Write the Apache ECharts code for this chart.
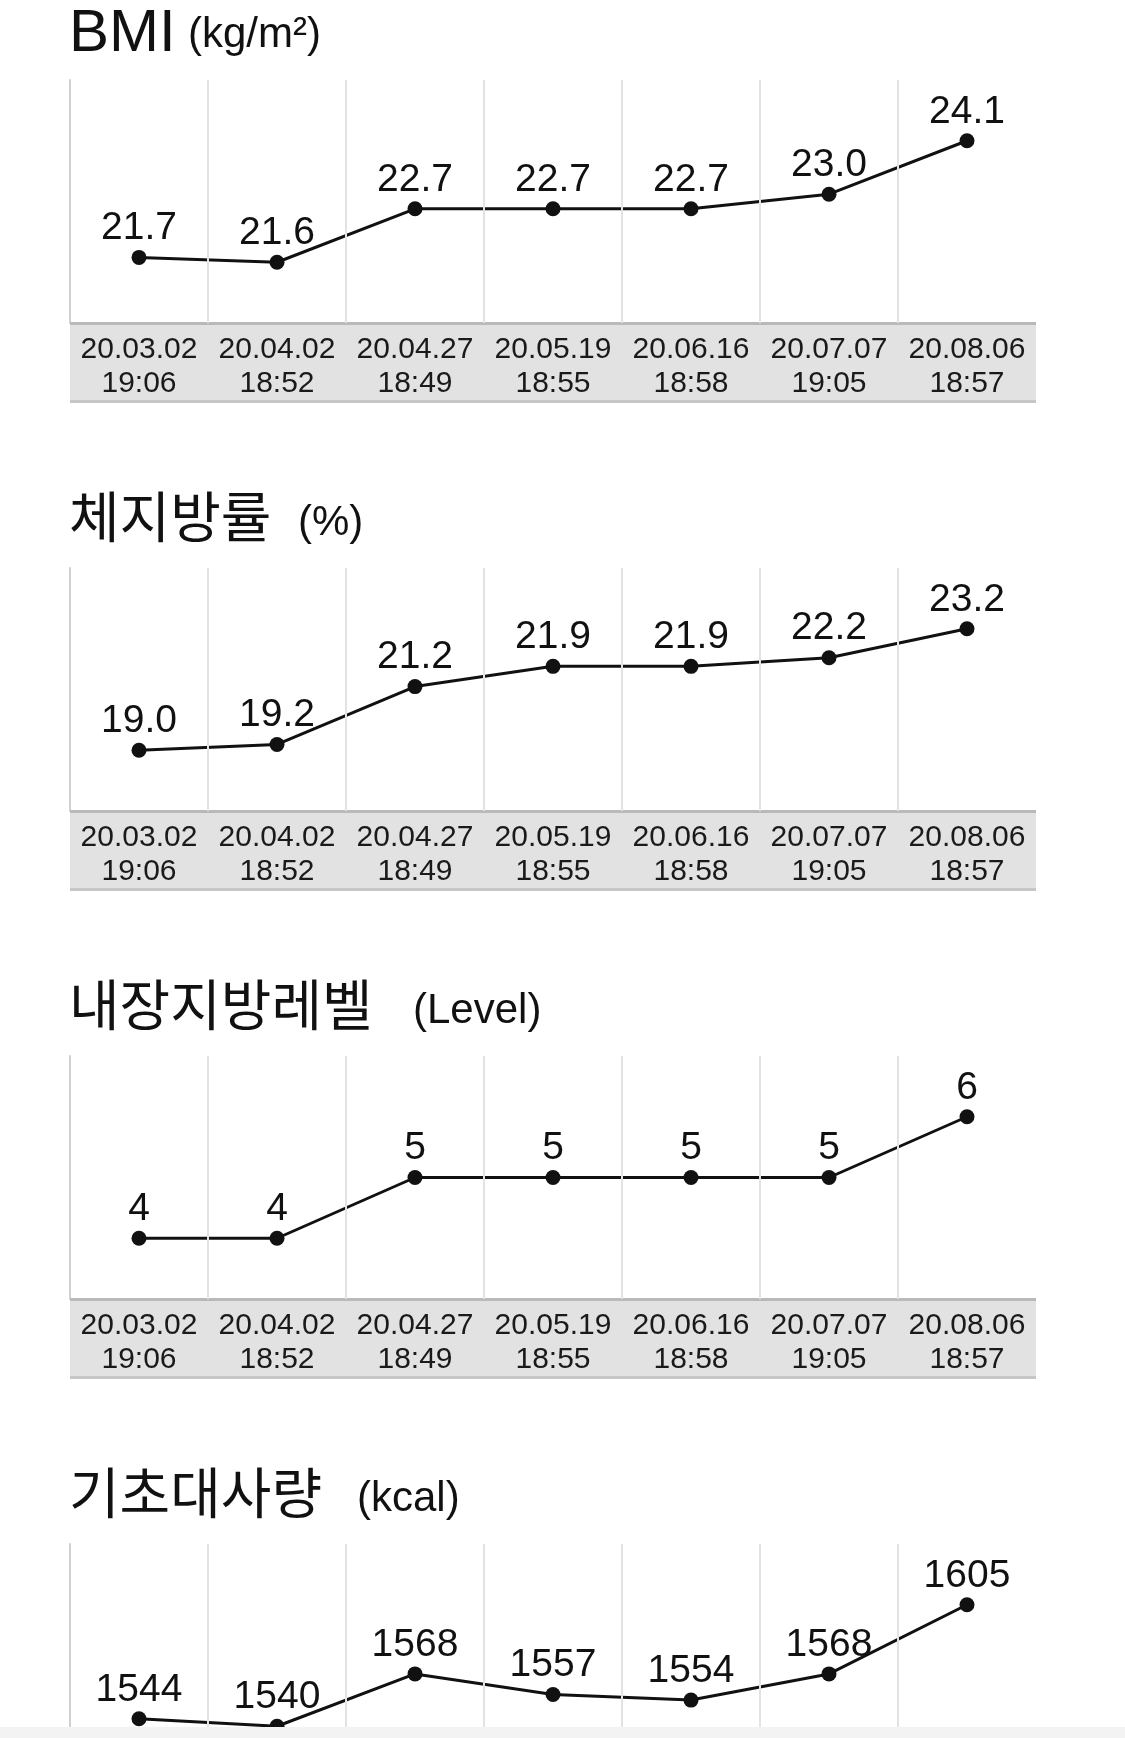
<!DOCTYPE html>
<html>
<head>
<meta charset="utf-8">
<script src="https://cdn.jsdelivr.net/npm/echarts@6/dist/echarts.min.js"></script>
<style>
  html, body { margin: 0; padding: 0; background: #ffffff; overflow: hidden; }
  #c { width: 1125px; height: 1830px; }
</style>
</head>
<body>
<div id="c"></div>
<script>
// ---- data ----
const dates = ['20.03.02', '20.04.02', '20.04.27', '20.05.19', '20.06.16', '20.07.07', '20.08.06'];
const times = ['19:06', '18:52', '18:49', '18:55', '18:58', '19:05', '18:57'];
const titles = ['BMI', '체지방률', '내장지방레벨', '기초대사량'];
const units = ['(kg/m²)', '(%)', '(Level)', '(kcal)'];
const bmi = [21.7, 21.6, 22.7, 22.7, 22.7, 23.0, 24.1];
const bodyFat = [19.0, 19.2, 21.2, 21.9, 21.9, 22.2, 23.2];
const visceralFat = [4, 4, 5, 5, 5, 5, 6];
const bmr = [1544, 1540, 1568, 1557, 1554, 1568, 1605];

const seriesData = [bmi, bodyFat, visceralFat, bmr];
const decimals = [1, 1, 0, 0];
const categories = dates.map((d, i) => d + '\n' + times[i]);

// ---- layout ----
const TOP0 = 80, STEP = 488, PLOT_H = 243, LEFT = 70, COL_W = 138, N = dates.length;
const BAND_H = 80;
const titleFont = [60, 55, 55, 55];
const unitX = [188, 298, 413, 357];

const chart = echarts.init(document.getElementById('c'), null, { renderer: 'canvas' });

const grid = [], xAxis = [], yAxis = [], series = [], graphic = [];
seriesData.forEach((data, i) => {
  const top = TOP0 + STEP * i;
  grid.push({ left: LEFT, top: top, width: COL_W * N, height: PLOT_H, containLabel: false, outerBoundsMode: 'none' });
  xAxis.push({
    type: 'category', gridIndex: i, data: categories, boundaryGap: true, z: 10,
    axisLine: { show: false }, axisTick: { show: false },
    axisLabel: { margin: 10, fontSize: 30, lineHeight: 34, color: '#1a1a1a', fontFamily: 'Liberation Sans, Arial, sans-serif', interval: 0 },
    splitLine: { show: true, showMinLine: false, showMaxLine: false, lineStyle: { color: '#e3e3e3', width: 2 } }
  });
  yAxis.push({
    type: 'value', gridIndex: i, scale: true,
    min: v => v.min - (v.max - v.min) / 2,
    max: v => v.max + (v.max - v.min) / 2,
    axisLine: { show: true, lineStyle: { color: '#d0d0d0', width: 2 } },
    axisTick: { show: false }, axisLabel: { show: false }, splitLine: { show: false }
  });
  series.push({
    type: 'line', xAxisIndex: i, yAxisIndex: i, data: data,
    symbol: 'circle', symbolSize: 15, z: 3,
    lineStyle: { color: '#111111', width: 3 },
    itemStyle: { color: '#111111' },
    label: {
      show: true, position: 'top', distance: 2, fontSize: 39, color: '#111111',
      fontFamily: 'Liberation Sans, Arial, sans-serif',
      formatter: p => Number(p.value).toFixed(decimals[i])
    },
    emphasis: { disabled: true },
    animation: false
  });
  const bandY = top + PLOT_H;
  graphic.push(
    { type: 'rect', shape: { x: LEFT, y: bandY, width: COL_W * N, height: BAND_H }, style: { fill: '#e2e2e2' }, z: 1 },
    { type: 'rect', shape: { x: LEFT, y: bandY - 1, width: COL_W * N, height: 3 }, style: { fill: '#b9b9b9' }, z: 1 },
    { type: 'rect', shape: { x: LEFT, y: bandY + BAND_H - 3, width: COL_W * N, height: 3 }, style: { fill: '#c6c6c6' }, z: 1 },
    { type: 'text', x: 69, y: top - 46, style: { text: titles[i], font: titleFont[i] + 'px "Liberation Sans", "Noto Sans CJK KR", sans-serif', fill: '#111111', verticalAlign: 'middle', align: 'left' }, z: 5 },
    { type: 'text', x: unitX[i], y: top - 45, style: { text: units[i], font: '42px "Liberation Sans", "Noto Sans CJK KR", sans-serif', fill: '#111111', verticalAlign: 'middle', align: 'left' }, z: 5 }
  );
});
graphic.push({ type: 'rect', shape: { x: 0, y: 1727, width: 1125, height: 11 }, style: { fill: '#f3f3f3' }, z: 100 });

chart.setOption({
  animation: false,
  backgroundColor: '#ffffff',
  grid, xAxis, yAxis, series, graphic
});
</script>
</body>
</html>
